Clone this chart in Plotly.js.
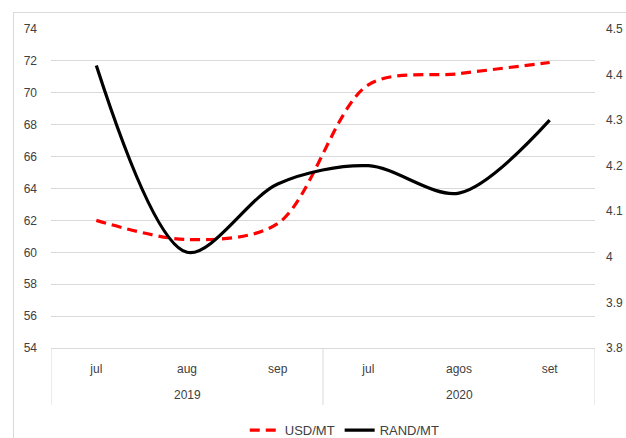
<!DOCTYPE html>
<html>
<head>
<meta charset="utf-8">
<script src="https://cdn.plot.ly/plotly-3.0.1.min.js"></script>
<style>
html,body{margin:0;padding:0;background:#fff;}
#frame{position:absolute;left:13px;top:12px;width:700px;height:500px;border:1px solid #d9d9d9;box-sizing:border-box;}
#chart{position:absolute;left:0;top:0;width:626px;height:438px;}
</style>
</head>
<body>
<div id="frame"></div>
<div id="chart"></div>
<script>
const years = ['2019','2019','2019','2020','2020','2020'];
const months = ['jul','aug','sep','jul','agos','set'];
const usdPerMT = [62.0, 60.8, 61.8, 70.5, 71.2, 71.9];
const randPerMT = [4.42, 4.01, 4.16, 4.20, 4.14, 4.30];
const leftTicks = [54,56,58,60,62,64,66,68,70,72,74];
const rightTicks = [3.8,3.9,4.0,4.1,4.2,4.3,4.4,4.5];

const font = {family: 'Liberation Sans, Arial, sans-serif', size: 12, color: '#404040'};
const legendFont = {family: 'Liberation Sans, Arial, sans-serif', size: 13, color: '#404040'};

const idx = months.map((m, i) => i);

// year groups derived from the years array
const groups = [];
years.forEach((y, i) => {
  if (!groups.length || groups[groups.length - 1].year !== y) groups.push({year: y, start: i, end: i});
  else groups[groups.length - 1].end = i;
});

const annotations = groups.map(g => ({
  x: (g.start + g.end) / 2, xref: 'x', y: -0.147, yref: 'paper', text: g.year,
  showarrow: false, xanchor: 'center', yanchor: 'middle', font: font
}));

const dividerPos = [-0.5].concat(groups.map(g => g.end + 0.5));
const shapes = dividerPos.map(p => ({
  type: 'line', xref: 'x', yref: 'paper', x0: p, x1: p, y0: 0, y1: -0.179,
  line: {color: '#d9d9d9', width: 1}
}));

const traces = [
  {x: idx, y: usdPerMT, name:'USD/MT', type:'scatter', mode:'lines', cliponaxis:false,
   line:{color:'#ff0000', width:3.2, dash:'10px,6px', shape:'spline', smoothing:0.9}, yaxis:'y'},
  {x: idx, y: randPerMT, name:'RAND/MT', type:'scatter', mode:'lines', cliponaxis:false,
   line:{color:'#000000', width:3.2, shape:'spline', smoothing:0.9}, yaxis:'y2'}
];

const layout = {
  width:626, height:438,
  margin:{l:51, r:31, t:29, b:90},
  paper_bgcolor:'rgba(0,0,0,0)', plot_bgcolor:'rgba(0,0,0,0)',
  font: font,
  showlegend:true,
  legend:{orientation:'h', x:0.54, xanchor:'center', yref:'container', y:0.018, yanchor:'middle', font:legendFont},
  annotations: annotations,
  shapes: shapes,
  xaxis:{range:[-0.5,5.5], tickvals: idx, ticktext: months, automargin:false, showgrid:false, zeroline:false,
         showline:true, linecolor:'#d9d9d9', ticks:'', tickfont:font, ticklabelstandoff:10},
  yaxis:{range:[54,74], tickvals:leftTicks, automargin:false, showgrid:true, gridcolor:'#d9d9d9', gridwidth:1,
         zeroline:false, showline:false, ticks:'', tickfont:font, ticklabelstandoff:13},
  yaxis2:{range:[3.8,4.5], tickvals:rightTicks, ticktext:rightTicks.map(v=>String(v)), overlaying:'y', side:'right',
          automargin:false, showgrid:false, zeroline:false, showline:false, ticks:'', tickfont:font, ticklabelstandoff:10}
};

Plotly.newPlot('chart', traces, layout, {displayModeBar:false, staticPlot:true});
</script>
</body>
</html>
